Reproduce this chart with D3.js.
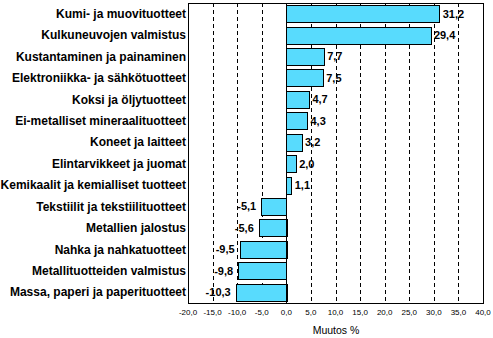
<!DOCTYPE html>
<html>
<head>
<meta charset="utf-8">
<script src="https://cdn.jsdelivr.net/npm/d3@7"></script>
<style>
  body { margin: 0; background: #fff; }
  svg { display: block; font-family: "Liberation Sans", Arial, sans-serif; }
</style>
</head>
<body>
<svg id="chart" width="493" height="338"></svg>
<script>
'use strict';

// categories, top to bottom
var categories = [
  'Kumi- ja muovituotteet',
  'Kulkuneuvojen valmistus',
  'Kustantaminen ja painaminen',
  'Elektroniikka- ja sähkötuotteet',
  'Koksi ja öljytuotteet',
  'Ei-metalliset mineraalituotteet',
  'Koneet ja laitteet',
  'Elintarvikkeet ja juomat',
  'Kemikaalit ja kemialliset tuotteet',
  'Tekstiilit ja tekstiilituotteet',
  'Metallien jalostus',
  'Nahka ja nahkatuotteet',
  'Metallituotteiden valmistus',
  'Massa, paperi ja paperituotteet'
];
var values = [31.2, 29.4, 7.7, 7.5, 4.7, 4.3, 3.2, 2.0, 1.1, -5.1, -5.6, -9.5, -9.8, -10.3];
var ticks = [-20, -15, -10, -5, 0, 5, 10, 15, 20, 25, 30, 35, 40];

var svg = d3.select('#chart');
var plot = { left: 188, right: 483, top: 3, bottom: 303 };

var x = d3.scaleLinear().domain([-20, 40]).range([plot.left, plot.right]);
var y = d3.scaleBand().domain(categories).range([plot.top, plot.bottom]).paddingInner(0.2).paddingOuter(0.1);
// finnish style: comma decimals, plain hyphen minus
var fmt = function(v) { return d3.format('.1f')(v).replace('.', ',').replace('\u2212', '-'); };

// dashed grid
svg.append('g').selectAll('line')
  .data(ticks.filter(function(t) { return t !== 0 && t !== -20 && t !== 40; }))
  .join('line')
  .attr('x1', function(d) { return Math.round(x(d)) + 0.5; })
  .attr('x2', function(d) { return Math.round(x(d)) + 0.5; })
  .attr('y1', plot.top).attr('y2', plot.bottom)
  .attr('stroke', '#000').attr('stroke-dasharray', '4,3');

// bars
svg.append('g').selectAll('rect')
  .data(values)
  .join('rect')
  .attr('x', function(d) { return Math.round(x(Math.min(0, d))) + 0.5; })
  .attr('width', function(d) { return Math.round(Math.abs(x(d) - x(0))); })
  .attr('y', function(d, i) { return Math.round(y(categories[i])) + 0.5; })
  .attr('height', Math.round(y.bandwidth()))
  .attr('fill', '#58dbfd')
  .attr('stroke', '#000');

// zero line and frame
svg.append('line')
  .attr('x1', Math.round(x(0)) + 0.5).attr('x2', Math.round(x(0)) + 0.5)
  .attr('y1', plot.top).attr('y2', plot.bottom).attr('stroke', '#000');
svg.append('rect')
  .attr('x', plot.left + 0.5).attr('y', plot.top + 0.5)
  .attr('width', plot.right - plot.left).attr('height', plot.bottom - plot.top)
  .attr('fill', 'none').attr('stroke', '#000');

// value labels
svg.append('g').selectAll('text')
  .data(values)
  .join('text')
  .attr('x', function(d) { return d >= 0 ? x(d) + 3 : x(d) - 5; })
  .attr('y', function(d, i) { return y(categories[i]) + y.bandwidth() / 2; })
  .attr('dy', '0.35em')
  .attr('text-anchor', function(d) { return d >= 0 ? 'start' : 'end'; })
  .attr('font-size', 11).attr('font-weight', 'bold')
  .text(fmt);

// category labels
svg.append('g').selectAll('text')
  .data(categories)
  .join('text')
  .attr('x', plot.left - 2)
  .attr('y', function(d) { return y(d) + y.bandwidth() / 2; })
  .attr('dy', '0.35em')
  .attr('text-anchor', 'end')
  .attr('font-size', 12).attr('font-weight', 'bold')
  .text(function(d) { return d; });

// x tick labels
svg.append('g').selectAll('text')
  .data(ticks)
  .join('text')
  .attr('x', function(d) { return x(d); })
  .attr('y', 315)
  .attr('text-anchor', 'middle')
  .attr('font-size', 8)
  .text(fmt);

svg.append('text')
  .attr('x', 336).attr('y', 334)
  .attr('text-anchor', 'middle')
  .attr('font-size', 10.5)
  .text('Muutos %');
</script>
</body>
</html>
